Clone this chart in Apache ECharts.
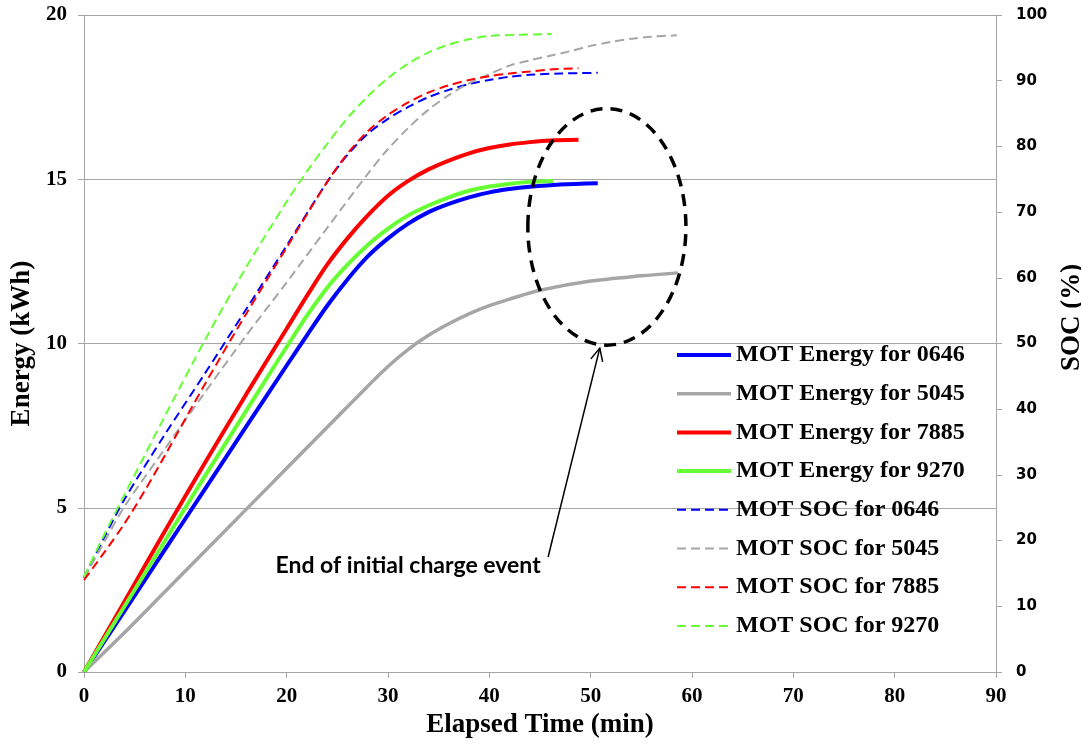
<!DOCTYPE html>
<html>
<head>
<meta charset="utf-8">
<script src="https://cdn.jsdelivr.net/npm/echarts@6/dist/echarts.min.js"></script>
<style>
  html, body { margin: 0; padding: 0; background: #fff; }
  #chart { width: 1081px; height: 752px; }
</style>
</head>
<body>
<div id="chart"></div>
<script>
// ---- Data ----
// [elapsed time (min), energy (kWh)]
const energy0646 = [[0,0],[4,1.86],[8,3.73],[12,5.6],[16,7.47],[20,9.33],[22,10.25],[24,11.15],[26,11.95],[28,12.65],[30,13.2],[32,13.65],[34,14.0],[36,14.25],[38,14.45],[40,14.6],[42,14.7],[44,14.77],[47,14.84],[50.7,14.88]];
const energy5045 = [[0,0],[4,1.2],[8,2.45],[12,3.7],[16,4.95],[20,6.2],[24,7.45],[28,8.7],[30,9.3],[32,9.82],[34,10.25],[36,10.6],[38,10.9],[40,11.15],[42,11.35],[45,11.62],[50,11.9],[55,12.06],[58.6,12.15]];
const energy7885 = [[0,0],[4,2.15],[8,4.3],[12,6.4],[16,8.45],[20,10.45],[22,11.45],[24,12.4],[26,13.2],[28,13.9],[30,14.5],[32,14.95],[34,15.3],[36,15.57],[38,15.79],[40,15.95],[42,16.06],[44,16.13],[46,16.18],[48.8,16.2]];
const energy9270 = [[0,0],[4,2.0],[8,4.0],[12,6.0],[16,7.95],[20,9.9],[22,10.85],[24,11.7],[26,12.4],[28,13.0],[30,13.5],[32,13.9],[34,14.2],[36,14.45],[38,14.65],[40,14.78],[42,14.86],[44,14.92],[46.3,14.95]];
// [elapsed time (min), SOC (%)]
const soc0646 = [[0,14.3],[2,20.5],[4,26.3],[8,36.2],[12,45.6],[16,55.2],[20,64.9],[24,74.6],[26,78.7],[28,81.9],[30,84.2],[32,86.0],[34,87.5],[36,88.6],[38,89.5],[40,90.1],[42,90.6],[44,90.9],[47,91.1],[50.7,91.2]];
const soc5045 = [[0,14.3],[2,19.8],[4,25.2],[8,34.0],[12,42.7],[16,51.2],[20,59.3],[24,67.6],[28,75.8],[30,79.6],[32,82.8],[34,85.6],[36,87.8],[38,89.6],[40,91.0],[42,92.3],[44,93.1],[46,93.8],[48,94.5],[50,95.3],[52,95.9],[54,96.4],[56,96.7],[58.5,96.9]];
const soc7885 = [[0,14.0],[2,18.2],[4,22.6],[6,27.6],[8,33.0],[12,44.0],[16,54.5],[20,64.6],[24,74.6],[26,78.9],[28,82.3],[30,84.8],[32,86.7],[34,88.2],[36,89.3],[38,90.1],[40,90.7],[42,91.1],[44,91.4],[46,91.7],[48.8,91.9]];
const soc9270 = [[0,14.5],[2,20.9],[4,27.0],[8,39.0],[12,50.7],[16,61.6],[20,71.6],[22,76.2],[24,80.4],[26,84.3],[28,87.6],[30,90.4],[32,92.6],[34,94.3],[36,95.5],[38,96.3],[40,96.8],[43,97.0],[46.1,97.1]];

const seriesNames = ['MOT Energy for 0646','MOT Energy for 5045','MOT Energy for 7885','MOT Energy for 9270',
                     'MOT SOC for 0646','MOT SOC for 5045','MOT SOC for 7885','MOT SOC for 9270'];
const xAxisTitle = 'Elapsed Time (min)';
const leftAxisTitle = 'Energy (kWh)';
const rightAxisTitle = 'SOC (%)';
const annotationText = 'End of initial charge event';
// annotation anchors in data units (time, kWh)
const ellipseCenter = [51.6, 13.55];
const ellipseRadius = [7.8, 3.6];
const arrowStart = [45.8, 3.5];
const arrowTip = [50.9, 9.86];
const textAnchor = [18.9, 3.23];

// ---- Chart ----
const chart = echarts.init(document.getElementById('chart'), null, { renderer: 'canvas' });
const serif = '"Liberation Serif", "Times New Roman", serif';
const gridColor = '#A6A6A6';

function solid(name, data, color, w) {
  return { name, type: 'line', data, yAxisIndex: 0, symbol: 'none', smooth: 0.3,
    lineStyle: { color, width: w }, itemStyle: { color }, z: 3 };
}
function dashed(name, data, color) {
  return { name, type: 'line', data, yAxisIndex: 1, symbol: 'none', smooth: 0.3,
    lineStyle: { color, width: 2, type: [9, 5] }, itemStyle: { color }, z: 2 };
}

const option = {
  animation: false,
  backgroundColor: '#ffffff',
  grid: { left: 84, right: 85, top: 15, bottom: 80, containLabel: false, outerBoundsMode: 'none' },
  legend: {
    orient: 'vertical', left: 670, top: 337,
    itemWidth: 54, itemHeight: 14, itemGap: 12.7,
    data: seriesNames,
    itemStyle: { opacity: 0 },
    lineStyle: { width: 'inherit' },
    textStyle: { fontFamily: serif, fontWeight: 'bold', fontSize: 24, color: '#000', lineHeight: 26 }
  },
  xAxis: {
    type: 'value', min: 0, max: 90, interval: 10,
    name: xAxisTitle, nameLocation: 'middle', nameGap: 35,
    nameTextStyle: { fontFamily: serif, fontWeight: 'bold', fontSize: 27, color: '#000' },
    axisLine: { show: true, onZero: false, lineStyle: { color: gridColor, width: 1 } },
    axisTick: { show: true, inside: false, length: 6, lineStyle: { color: gridColor } },
    axisLabel: { margin: 14, fontFamily: serif, fontWeight: 'bold', fontSize: 21, color: '#000' },
    splitLine: { show: false }
  },
  yAxis: [
    {
      type: 'value', min: 0, max: 20, interval: 5, position: 'left',
      name: leftAxisTitle, nameLocation: 'middle', nameGap: 39, nameRotate: 90,
      nameTextStyle: { fontFamily: serif, fontWeight: 'bold', fontSize: 27, color: '#000' },
      axisLine: { show: true, lineStyle: { color: gridColor, width: 1 } },
      axisTick: { show: true, inside: false, length: 6, lineStyle: { color: gridColor } },
      axisLabel: { margin: 17, fontFamily: serif, fontWeight: 'bold', fontSize: 21, color: '#000' },
      splitLine: { show: true, lineStyle: { color: gridColor, width: 1 } }
    },
    {
      type: 'value', min: 0, max: 100, interval: 10, position: 'right',
      name: rightAxisTitle, nameLocation: 'middle', nameGap: 50, nameRotate: 90,
      nameTextStyle: { fontFamily: serif, fontWeight: 'bold', fontSize: 27, color: '#000', padding: [0,0,0,52] },
      axisLine: { show: true, lineStyle: { color: gridColor, width: 1 } },
      axisTick: { show: true, inside: false, length: 6, lineStyle: { color: gridColor } },
      axisLabel: { margin: 20, fontFamily: '"DejaVu Sans", sans-serif', fontWeight: 'bold', fontSize: 15, color: '#000' },
      splitLine: { show: false }
    }
  ],
  series: [
    solid(seriesNames[0], energy0646, '#0000FF', 4),
    solid(seriesNames[1], energy5045, '#A6A6A6', 3.5),
    solid(seriesNames[2], energy7885, '#FF0000', 4),
    solid(seriesNames[3], energy9270, '#66FF33', 4),
    dashed(seriesNames[4], soc0646, '#0000FF'),
    dashed(seriesNames[5], soc5045, '#A6A6A6'),
    dashed(seriesNames[6], soc7885, '#FF0000'),
    dashed(seriesNames[7], soc9270, '#66FF33')
  ]
};
chart.setOption(option);

// ---- Annotation (positioned through the chart's own scales) ----
const toPx = (p) => chart.convertToPixel({ xAxisIndex: 0, yAxisIndex: 0 }, p);
const c = toPx(ellipseCenter);
const cr = toPx([ellipseCenter[0] + ellipseRadius[0], ellipseCenter[1] + ellipseRadius[1]]);
const rx = Math.abs(cr[0] - c[0]), ry = Math.abs(cr[1] - c[1]);
const a0 = toPx(arrowStart), a1 = toPx(arrowTip);
const ang = Math.atan2(a0[1] - a1[1], a0[0] - a1[0]);
const headLen = 14, spread = 0.45;
const h1 = [a1[0] + headLen * Math.cos(ang + spread), a1[1] + headLen * Math.sin(ang + spread)];
const h2 = [a1[0] + headLen * Math.cos(ang - spread), a1[1] + headLen * Math.sin(ang - spread)];
const t = toPx(textAnchor);

chart.setOption({
  graphic: [
    { type: 'ellipse', shape: { cx: c[0], cy: c[1], rx, ry }, z: 10,
      style: { fill: null, stroke: '#000', lineWidth: 3.5, lineDash: [12, 8] } },
    { type: 'line', shape: { x1: a0[0], y1: a0[1], x2: a1[0], y2: a1[1] }, z: 10,
      style: { stroke: '#000', lineWidth: 1.5 } },
    { type: 'polyline', shape: { points: [h1, a1, h2] }, z: 10,
      style: { fill: null, stroke: '#000', lineWidth: 1.5 } },
    { type: 'text', x: t[0], y: t[1], z: 10,
      style: { text: annotationText, fill: '#000', font: 'bold 23px Lato, "Open Sans", sans-serif', textAlign: 'left', textVerticalAlign: 'middle' } }
  ]
});
</script>
</body>
</html>
